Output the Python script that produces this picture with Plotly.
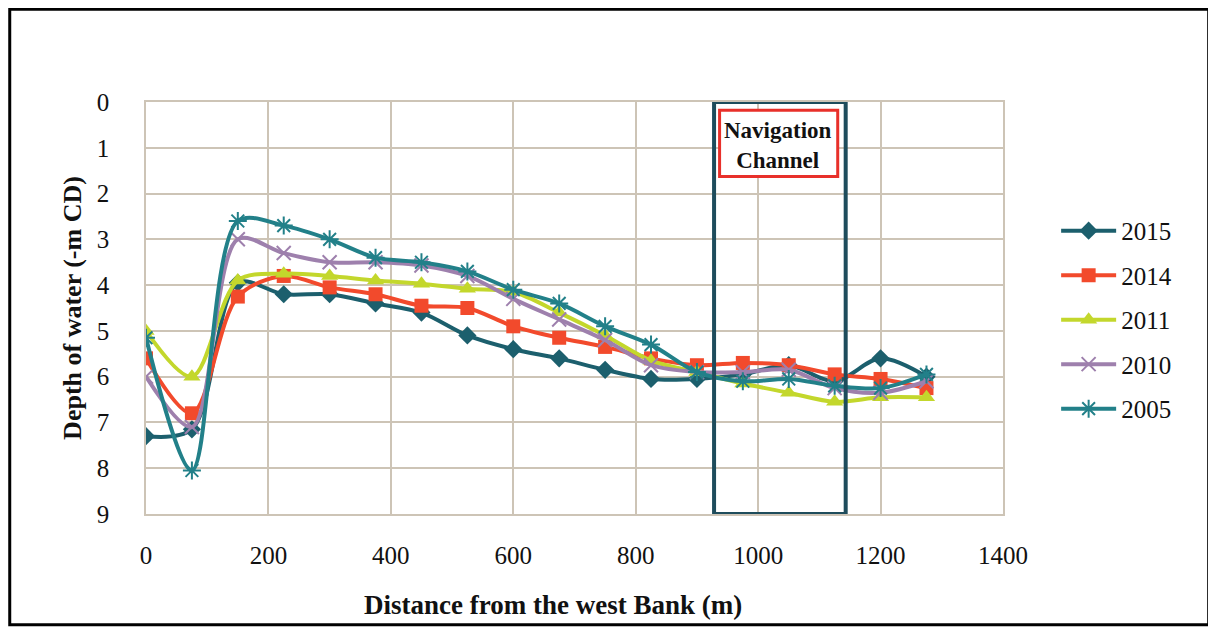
import plotly.graph_objects as go

# distance from west bank (m)
distance = [0, 75, 150, 225, 300, 375, 450, 525, 600, 675, 750, 825, 900, 975, 1050, 1125, 1200, 1275]

# depth of water (-m CD) per survey year
depth_2015 = [7.3, 7.15, 3.95, 4.2, 4.2, 4.4, 4.6, 5.1, 5.4, 5.6, 5.85, 6.05, 6.05, 5.95, 5.75, 6.1, 5.6, 6.0]
depth_2014 = [5.6, 6.8, 4.25, 3.8, 4.05, 4.2, 4.45, 4.5, 4.9, 5.15, 5.35, 5.6, 5.75, 5.7, 5.75, 5.95, 6.05, 6.25]
depth_2011 = [5.0, 6.0, 3.9, 3.75, 3.8, 3.9, 3.97, 4.08, 4.15, 4.6, 5.1, 5.65, 5.9, 6.15, 6.35, 6.55, 6.45, 6.45]
depth_2010 = [6.0, 7.1, 3.0, 3.3, 3.5, 3.5, 3.57, 3.8, 4.3, 4.75, 5.2, 5.75, 5.9, 5.9, 5.85, 6.25, 6.35, 6.1]
depth_2005 = [5.15, 8.05, 2.6, 2.7, 3.0, 3.4, 3.5, 3.7, 4.1, 4.4, 4.9, 5.3, 5.9, 6.1, 6.05, 6.2, 6.25, 5.95]

series = [
    ("2015", depth_2015, "#1c5f6d", "diamond", 14),
    ("2014", depth_2014, "#f24a2c", "square", 14),
    ("2011", depth_2011, "#c3d72c", "triangle-up", 15),
    ("2010", depth_2010, "#9e80ad", "x-thin", 14),
    ("2005", depth_2005, "#228089", "asterisk", 15),
]

serif = "Liberation Serif, Times New Roman, serif"
grid_col = "#cdc4b6"

fig = go.Figure()
for name, vals, col, sym, size in series:
    open_sym = sym in ("x-thin", "asterisk")
    fig.add_trace(go.Scatter(
        x=distance, y=vals, name=name, mode="lines+markers",
        line=dict(color=col, width=4, shape="spline", smoothing=0.9),
        marker=dict(symbol=sym, size=size, color=col,
                    line=dict(color=col, width=2 if open_sym else 0)),
        legendgroup=name,
    ))

# navigation channel box
fig.add_shape(type="rect", xref="x", yref="y", x0=928, x1=1143, y0=0, y1=9,
              line=dict(color="#1e4c5c", width=4), fillcolor="rgba(0,0,0,0)")
fig.add_shape(type="rect", xref="x", yref="y", x0=937, x1=1130, y0=0.18, y1=1.63,
              line=dict(color="#e8302a", width=3), fillcolor="white")
fig.add_annotation(x=1033, y=0.95, xref="x", yref="y", text="<b>Navigation<br>Channel</b>",
                   showarrow=False, font=dict(family=serif, size=23, color="#111"))

# x axis title, sits a bit left of centre in the original
fig.add_annotation(x=0.475, y=-0.222, xref="paper", yref="paper", yanchor="middle",
                   text="<b>Distance from the west Bank (m)</b>", showarrow=False,
                   font=dict(family=serif, size=27, color="#111"))

# outer frame
fig.add_shape(type="rect", xref="paper", yref="paper", x0=-0.159, x1=1.24, y0=-0.269, y1=1.225,
              line=dict(color="black", width=3))

fig.update_xaxes(range=[0, 1400], dtick=200, showgrid=True, gridcolor=grid_col, gridwidth=1.5,
                 showline=True, linecolor=grid_col, linewidth=1.5, mirror=True, zeroline=False,
                 ticks="", ticklabelstandoff=18,
                 tickfont=dict(family=serif, size=25, color="#111"))
fig.update_yaxes(range=[9, 0], dtick=1, showgrid=True, gridcolor=grid_col, gridwidth=1.5,
                 showline=True, linecolor=grid_col, linewidth=1.5, mirror=True, zeroline=False,
                 ticks="", ticklabelstandoff=30,
                 tickfont=dict(family=serif, size=25, color="#111"),
                 title=dict(text="<b>Depth of water (-m CD)</b>", standoff=8,
                            font=dict(family=serif, size=26, color="#111")))

fig.update_layout(
    width=1216, height=628,
    margin=dict(l=138, r=221, t=94, b=122),
    paper_bgcolor="white", plot_bgcolor="white",
    showlegend=True,
    legend=dict(x=1.062, y=0.743, xanchor="left", yanchor="top", tracegroupgap=9,
                itemwidth=55,
                font=dict(family=serif, size=25, color="#111"), bgcolor="rgba(0,0,0,0)"),
)

fig.write_html("out.html")
